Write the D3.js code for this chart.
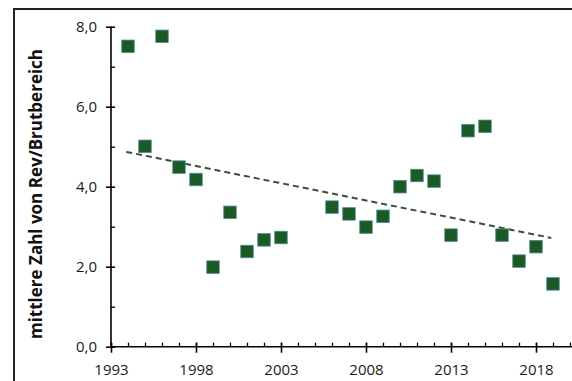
<!DOCTYPE html>
<html>
<head>
<meta charset="utf-8">
<script src="https://cdn.jsdelivr.net/npm/d3@7"></script>
<style>
html,body{margin:0;padding:0;background:#fff;}
svg{display:block;}
</style>
</head>
<body>
<svg id="chart" width="572" height="381"></svg>
<script>
// ---- data ----
const years = [1994,1995,1996,1997,1998,1999,2000,2001,2002,2003,2006,2007,2008,2009,2010,2011,2012,2013,2014,2015,2016,2017,2018,2019];
const values = [7.51,5.01,7.76,4.49,4.18,1.99,3.36,2.38,2.67,2.73,3.49,3.32,2.99,3.26,4.0,4.28,4.14,2.79,5.4,5.51,2.79,2.14,2.5,1.57];
const trendYears = [1993.9, 2018.9];
const trendValues = [4.87, 2.72];
const yMajorTicks = [0,2,4,6,8];
const yMinorTicks = [1,3,5,7];
const xMajorTicks = [1993,1998,2003,2008,2013,2018];
const xMinorTicks = d3.range(1993, 2021);
const yTitle = "mittlere Zahl von Rev/Brutbereich";

const svg = d3.select("#chart");
const font = "'Open Sans', 'Liberation Sans', sans-serif";

// frame
svg.append("rect").attr("x",14).attr("y",9).attr("width",600).attr("height",400)
  .attr("fill","none").attr("stroke","#222").attr("stroke-width",2);

const x = d3.scaleLinear().domain([1993, 2020]).range([111, 570]);
const y = d3.scaleLinear().domain([0, 8]).range([346.7, 26.7]);

const loc = d3.formatLocale({decimal:",", thousands:".", grouping:[3], currency:["","€"]});
const fmt = loc.format(".1f");

// y minor ticks
svg.append("g").attr("transform","translate(111,0)")
  .call(d3.axisLeft(y).tickValues(yMinorTicks).tickSize(-4).tickFormat(""))
  .call(g=>g.select(".domain").remove())
  .call(g=>g.selectAll("line").attr("stroke","#000").attr("stroke-width",1.3));

// y major axis
const yAx = svg.append("g").attr("transform","translate(111,0)")
  .call(d3.axisLeft(y).tickValues(yMajorTicks).tickSize(5).tickPadding(9).tickSizeOuter(0).tickFormat(fmt));
yAx.select(".domain").attr("stroke","#000").attr("stroke-width",1.6)
  .attr("d", `M0,${y(0)}V${y(8)}`);
yAx.selectAll(".tick line").attr("x1",4).attr("x2",-5).attr("stroke","#000").attr("stroke-width",1.6);
yAx.selectAll("text").attr("font-family",font).attr("font-size",15).attr("fill","#1a1a1a");

// x minor ticks
svg.append("g").attr("transform",`translate(0,${y(0)})`)
  .call(d3.axisBottom(x).tickValues(xMinorTicks).tickSize(-4).tickFormat(""))
  .call(g=>g.select(".domain").remove())
  .call(g=>g.selectAll("line").attr("stroke","#000").attr("stroke-width",1.3));

// x major axis
const xAx = svg.append("g").attr("transform",`translate(0,${y(0)})`)
  .call(d3.axisBottom(x).tickValues(xMajorTicks).tickSize(6).tickPadding(12).tickSizeOuter(0).tickFormat(d3.format("d")));
xAx.select(".domain").attr("stroke","#000").attr("stroke-width",1.6)
  .attr("d", `M${x(1993)},0H572`);
xAx.selectAll(".tick line").attr("y1",-4).attr("y2",6).attr("stroke","#000").attr("stroke-width",1.6);
xAx.selectAll("text").attr("font-family",font).attr("font-size",15).attr("fill","#1a1a1a");

// y title
svg.append("text")
  .attr("transform","translate(42,194) rotate(-90)")
  .attr("text-anchor","middle")
  .attr("font-family",font).attr("font-weight","bold").attr("font-size",17).attr("fill","#111")
  .text(yTitle);

// trend line
const trend = trendYears.map((d,i)=>[d, trendValues[i]]);
svg.append("path")
  .datum(trend)
  .attr("d", d3.line().x(d=>x(d[0])).y(d=>y(d[1])))
  .attr("fill","none").attr("stroke","#3b4f36").attr("stroke-width",2)
  .attr("stroke-dasharray","6,4");

// markers
const s = 12.5;
svg.append("g").selectAll("rect")
  .data(years.map((d,i)=>({yr:d, v:values[i]})))
  .join("rect")
  .attr("x", d=>x(d.yr)-s/2).attr("y", d=>y(d.v)-s/2)
  .attr("width", s).attr("height", s)
  .attr("fill","#1b5a26").attr("stroke","#4f8d8c").attr("stroke-width",0.8);
</script>
</body>
</html>
